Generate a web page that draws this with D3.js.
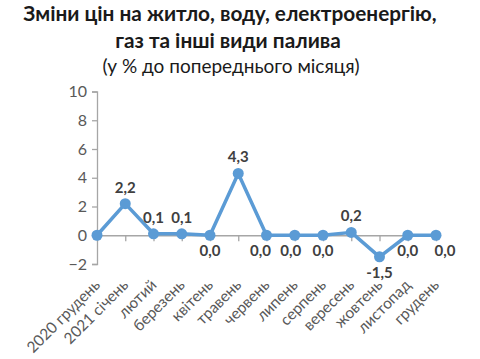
<!DOCTYPE html>
<html>
<head>
<meta charset="utf-8">
<script src="https://cdn.jsdelivr.net/npm/d3@7/dist/d3.min.js"></script>
<style>
  html, body { margin: 0; padding: 0; background: #fff; }
  svg { display: block; }
</style>
</head>
<body>
<svg id="chart" width="480" height="359"></svg>
<script>
const categories = ["2020 грудень", "2021 січень", "лютий", "березень", "квітень", "травень", "червень", "липень", "серпень", "вересень", "жовтень", "листопад", "грудень"];
const values = [0.0, 2.2, 0.1, 0.1, 0.0, 4.3, 0.0, 0.0, 0.0, 0.2, -1.5, 0.0, 0.0];
const valueLabels = [null, "2,2", "0,1", "0,1", "0,0", "4,3", "0,0", "0,0", "0,0", "0,2", "-1,5", "0,0", "0,0"];
const yTicks = [-2, 0, 2, 4, 6, 8, 10];
const titleLines = ["Зміни цін на житло, воду, електроенергію,", "газ та інші види палива"];
const subtitle = "(у % до попереднього місяця)";

// label placement (style): above / below and small nudges
const labelBelow = [false, false, false, false, true, false, true, true, true, false, true, true, true];
const labelDx = [0, 0, 0, 0, 0, 0, -6, -4, 0, 0, 0, 0, 9];

const FONT = "Lato, 'Open Sans', sans-serif";
const svg = d3.select("#chart");

const x = d3.scalePoint().domain(categories).range([97, 436]).padding(0);
const y = d3.scaleLinear().domain([-2, 10]).range([264, 91.5]);

// title
svg.append("text").attr("x", 230).attr("y", 21).attr("text-anchor", "middle")
  .attr("font-family", FONT).attr("font-weight", "bold").attr("font-size", 20.8).attr("fill", "#1a1a1a")
  .text(titleLines[0]);
svg.append("text").attr("x", 228).attr("y", 48).attr("text-anchor", "middle")
  .attr("font-family", FONT).attr("font-weight", "bold").attr("font-size", 20.8).attr("fill", "#1a1a1a")
  .text(titleLines[1]);
svg.append("text").attr("x", 231).attr("y", 73).attr("text-anchor", "middle")
  .attr("font-family", FONT).attr("font-size", 19).attr("fill", "#1a1a1a")
  .text(subtitle);

// y axis
const yAxis = d3.axisLeft(y).tickValues(yTicks).tickSize(5).tickPadding(5).tickFormat(d3.format("d"));
const gy = svg.append("g").attr("transform", `translate(${x(categories[0])},0)`).call(yAxis);
gy.select(".domain").attr("stroke", "#a6a6a6").attr("stroke-width", 1.3);
gy.selectAll(".tick line").attr("stroke", "#a6a6a6").attr("stroke-width", 1.3);
gy.selectAll(".tick text").attr("font-family", FONT).attr("font-size", 16).attr("fill", "#595959");

// x axis at y = 0
const xAxis = d3.axisBottom(x).tickSizeInner(6).tickSizeOuter(0).tickFormat("");
const gx = svg.append("g").attr("transform", `translate(0,${y(0)})`).call(xAxis);
gx.select(".domain").attr("stroke", "#a6a6a6").attr("stroke-width", 1.3);
gx.selectAll(".tick line").attr("stroke", "#a6a6a6").attr("stroke-width", 1.3);

// x category labels, rotated
svg.append("g").selectAll("text").data(categories).join("text")
  .attr("transform", d => `translate(${x(d) + 4},${y(-2) + 22}) rotate(-45)`)
  .attr("text-anchor", "end")
  .attr("font-family", FONT).attr("font-size", 15.5).attr("fill", "#595959")
  .text(d => d);

// line
const line = d3.line().x((d, i) => x(categories[i])).y(d => y(d));
svg.append("path").datum(values).attr("d", line)
  .attr("fill", "none").attr("stroke", "#5b9bd5").attr("stroke-width", 3.5).attr("stroke-linejoin", "round");

// markers
svg.append("g").selectAll("circle").data(values).join("circle")
  .attr("cx", (d, i) => x(categories[i])).attr("cy", d => y(d)).attr("r", 5.5)
  .attr("fill", "#5b9bd5");

// data labels
const labelData = values.map((v, i) => ({ v, i, cat: categories[i], label: valueLabels[i] }))
  .filter(d => d.label !== null);
svg.append("g").selectAll("text").data(labelData).join("text")
  .attr("x", d => x(d.cat) + labelDx[d.i])
  .attr("y", d => y(d.v) + (labelBelow[d.i] ? 21 : -11))
  .attr("text-anchor", "middle")
  .attr("font-family", FONT).attr("font-weight", "bold").attr("font-size", 15).attr("fill", "#404040")
  .text(d => d.label);
</script>
</body>
</html>
